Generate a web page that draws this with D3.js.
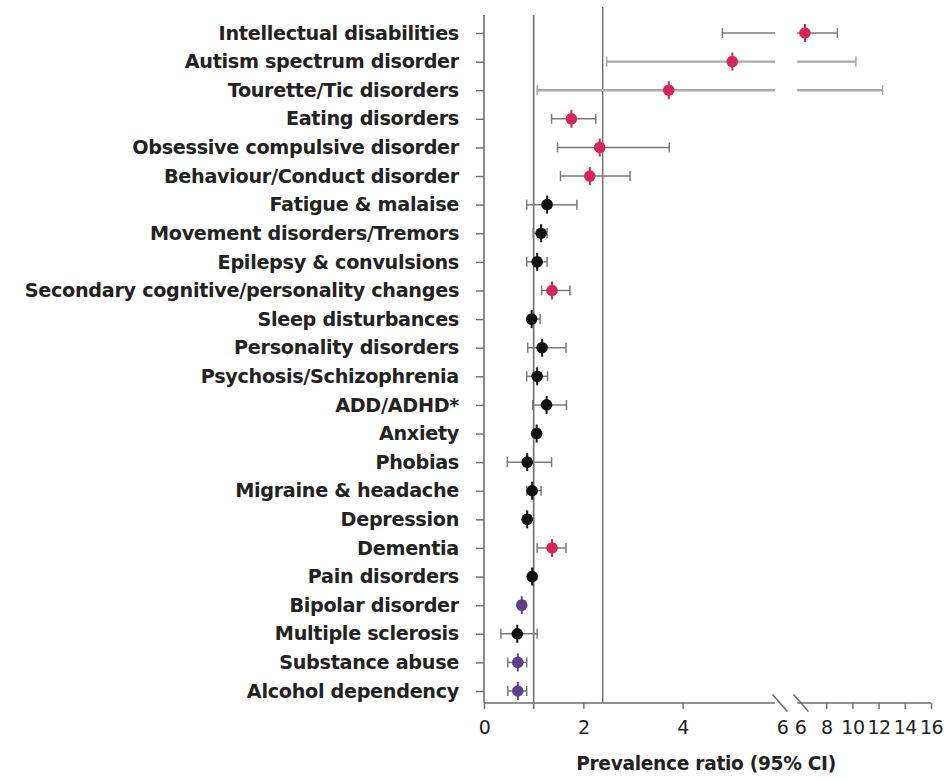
<!DOCTYPE html>
<html>
<head>
<meta charset="utf-8">
<script src="https://cdn.jsdelivr.net/npm/d3@7"></script>
<style>
  html, body { margin: 0; padding: 0; background: #fff; }
  svg { display: block; }
  text { font-family: "DejaVu Sans", "Liberation Sans", Arial, sans-serif; fill: #222; }
</style>
</head>
<body>
<svg id="chart" width="950" height="781"></svg>
<script>
// Conditions, top to bottom
const conditions = [
  "Intellectual disabilities",
  "Autism spectrum disorder",
  "Tourette/Tic disorders",
  "Eating disorders",
  "Obsessive compulsive disorder",
  "Behaviour/Conduct disorder",
  "Fatigue & malaise",
  "Movement disorders/Tremors",
  "Epilepsy & convulsions",
  "Secondary cognitive/personality changes",
  "Sleep disturbances",
  "Personality disorders",
  "Psychosis/Schizophrenia",
  "ADD/ADHD*",
  "Anxiety",
  "Phobias",
  "Migraine & headache",
  "Depression",
  "Dementia",
  "Pain disorders",
  "Bipolar disorder",
  "Multiple sclerosis",
  "Substance abuse",
  "Alcohol dependency"
];

// Prevalence ratio estimates and 95% confidence limits
const ratio = [6.38, 5.00, 3.72, 1.76, 2.33, 2.13, 1.27, 1.15, 1.07, 1.37, 0.96, 1.17,
               1.07, 1.26, 1.06, 0.87, 0.97, 0.87, 1.37, 0.97, 0.76, 0.67, 0.68, 0.68];
const lower = [4.80, 2.47, 1.07, 1.36, 1.48, 1.54, 0.86, 0.99, 0.86, 1.16, 0.92, 0.88,
               0.86, 0.98, 1.00, 0.47, 0.86, 0.83, 1.07, 0.93, 0.70, 0.34, 0.48, 0.48];
const upper = [8.85, 10.27, 12.31, 2.25, 3.73, 2.94, 1.87, 1.27, 1.27, 1.73, 1.13, 1.65,
               1.28, 1.66, 1.12, 1.36, 1.15, 0.93, 1.65, 1.01, 0.82, 1.07, 0.86, 0.86];
// Direction group: "high" = raised, "low" = reduced, "ns" = no clear difference
const group = ["high", "high", "high", "high", "high", "high", "ns", "ns", "ns", "high", "ns", "ns",
               "ns", "ns", "ns", "ns", "ns", "ns", "high", "ns", "low", "ns", "low", "low"];

// Axis ticks on each side of the break
const leftTicks = [0, 2, 4, 6];
const rightTicks = [6, 8, 10, 12, 14, 16];
const referenceRatio = 1;
const overallRatio = 2.39;

const colour = { high: "#d6245f", ns: "#111111", low: "#5b3f8e" };
const fontStack = "'DejaVu Sans', 'Liberation Sans', Arial, sans-serif";

const svg = d3.select("#chart");
const axisY = 703;
const axisColour = "#6e6e6e";

// Broken x axis: linear 0–6, then compressed 6–16
const xl = d3.scaleLinear().domain([0, 6]).range([484, 782]);
const xr = d3.scaleLinear().domain([6, 16]).range([800, 931]);
const leftEnd = 5.86;   // where the left segment stops
const rightStart = 5.78; // where the right segment resumes

const y = d3.scalePoint().domain(conditions).range([33, 691]);

// Vertical reference lines
svg.append("line")
  .attr("x1", xl(referenceRatio)).attr("x2", xl(referenceRatio))
  .attr("y1", 15).attr("y2", axisY + 6)
  .attr("stroke", axisColour).attr("stroke-width", 1.6);
svg.append("line")
  .attr("x1", xl(overallRatio)).attr("x2", xl(overallRatio))
  .attr("y1", 7).attr("y2", axisY)
  .attr("stroke", axisColour).attr("stroke-width", 1.4);

// Y axis with category labels
const yAxis = svg.append("g")
  .attr("transform", `translate(${xl(0)},0)`)
  .call(d3.axisLeft(y).tickSize(8).tickPadding(17).tickSizeOuter(0));
yAxis.select(".domain").remove();
yAxis.append("line")
  .attr("x1", 0).attr("x2", 0).attr("y1", 15).attr("y2", axisY)
  .attr("stroke", axisColour).attr("stroke-width", 1.6);
yAxis.selectAll(".tick line").attr("stroke", axisColour).attr("stroke-width", 1.4);
yAxis.selectAll(".tick text")
  .attr("font-size", 19.2).attr("font-weight", "bold")
  .attr("letter-spacing", "-0.3px")
  .style("font-family", fontStack)
  .attr("fill", "#222");

// X axis, left segment
const gl = svg.append("g").attr("transform", `translate(0,${axisY})`)
  .call(d3.axisBottom(xl).tickValues(leftTicks).tickSize(6).tickPadding(12).tickFormat(d3.format("d")));
gl.select(".domain").remove();
gl.append("line").attr("x1", xl(0)).attr("x2", xl(leftEnd))
  .attr("stroke", axisColour).attr("stroke-width", 1.6);

// X axis, right segment
const gr = svg.append("g").attr("transform", `translate(0,${axisY})`)
  .call(d3.axisBottom(xr).tickValues(rightTicks).tickSize(6).tickPadding(12).tickFormat(d3.format("d")));
gr.select(".domain").remove();
gr.append("line").attr("x1", xr(rightStart)).attr("x2", xr(16))
  .attr("stroke", axisColour).attr("stroke-width", 1.6);

[gl, gr].forEach(g => {
  g.selectAll(".tick line").attr("stroke", axisColour).attr("stroke-width", 1.4);
  g.selectAll(".tick text").attr("font-size", 19).attr("fill", "#222")
    .attr("letter-spacing", "-0.5px")
    .style("font-family", fontStack);
});
// No tick mark where the break slashes sit
gl.selectAll(".tick").filter(d => d === 6).select("line").remove();
gr.selectAll(".tick").filter(d => d === 6).select("line").remove();

// Break slashes
[xl(6) - 2, xr(6) + 1].forEach(cx => {
  svg.append("line")
    .attr("x1", cx - 7.5).attr("y1", axisY - 8.5)
    .attr("x2", cx + 7.5).attr("y2", axisY + 8.5)
    .attr("stroke", axisColour).attr("stroke-width", 1.6);
});

// Axis title
svg.append("text")
  .attr("x", 706).attr("y", 770)
  .attr("text-anchor", "middle")
  .attr("font-size", 18.6).attr("font-weight", "bold")
  .attr("letter-spacing", "-0.3px")
  .text("Prevalence ratio (95% CI)");

// Map a value to pixels, choosing the segment it falls in
const px = v => (v <= 6 ? xl(v) : xr(v));

// Confidence intervals
const ci = svg.append("g");
conditions.forEach((c, i) => {
  const yy = y(c);
  const lo = lower[i], hi = upper[i];
  const wide = hi > 10;
  const stroke = wide ? "#a9a9a9" : "#7a7a7a";
  const sw = wide ? 2.4 : 1.5;
  const segs = [];
  if (hi <= 6) {
    segs.push([xl(lo), xl(hi)]);
  } else {
    if (lo < leftEnd) segs.push([xl(lo), xl(leftEnd)]);
    segs.push([lo < rightStart ? xr(rightStart) : px(lo), xr(hi)]);
  }
  segs.forEach(s => {
    ci.append("line").attr("x1", s[0]).attr("x2", s[1]).attr("y1", yy).attr("y2", yy)
      .attr("stroke", stroke).attr("stroke-width", sw);
  });
  [px(lo), px(hi)].forEach(xx => {
    ci.append("line").attr("x1", xx).attr("x2", xx).attr("y1", yy - 5).attr("y2", yy + 5)
      .attr("stroke", stroke).attr("stroke-width", 1.5);
  });
});

// Point estimates
const pts = svg.append("g");
conditions.forEach((c, i) => {
  const xx = px(ratio[i]), yy = y(c);
  const col = colour[group[i]];
  pts.append("line").attr("x1", xx).attr("x2", xx).attr("y1", yy - 9).attr("y2", yy + 9)
    .attr("stroke", col).attr("stroke-width", 2);
  pts.append("circle").attr("cx", xx).attr("cy", yy).attr("r", 5.8).attr("fill", col);
});
</script>
</body>
</html>
